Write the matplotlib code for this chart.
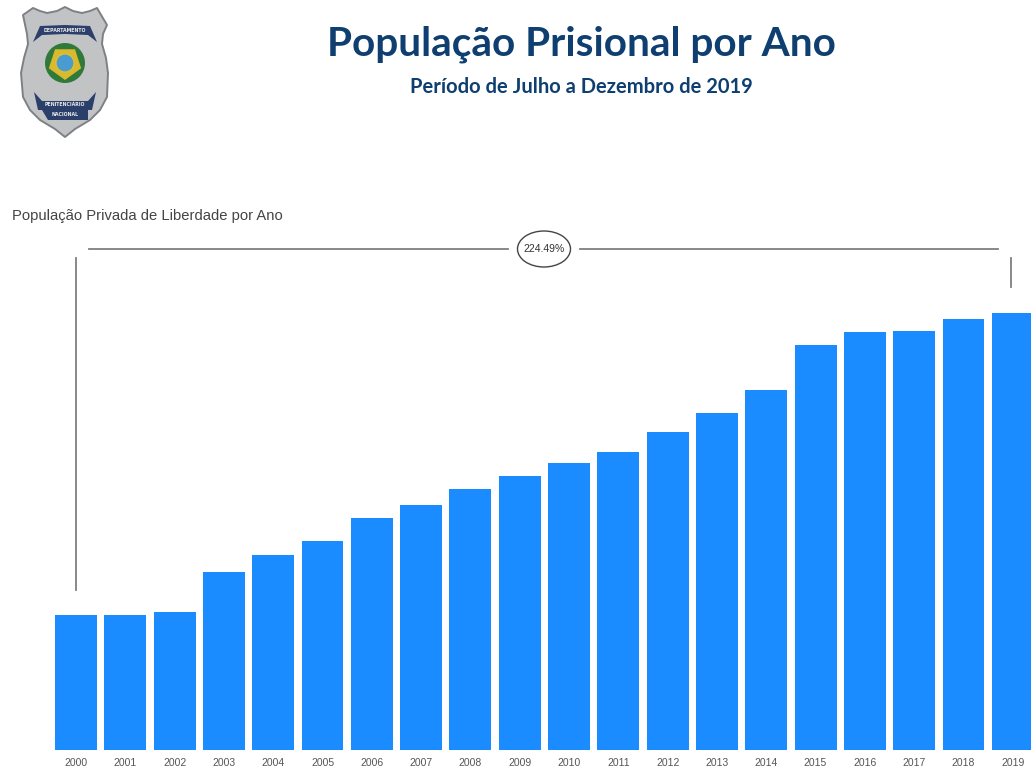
import matplotlib
matplotlib.use('Agg')
import matplotlib.pyplot as plt
from matplotlib.patches import Polygon, Circle, Ellipse, RegularPolygon

# Values, the axis itself has no labels
anos = ['2000', '2001', '2002', '2003', '2004', '2005', '2006', '2007', '2008', '2009',
        '2010', '2011', '2012', '2013', '2014', '2015', '2016', '2017', '2018', '2019']
populacao = [233000, 234000, 239000, 308000, 336000, 361000, 401000, 423000, 451000, 474000,
             496000, 515000, 550000, 582000, 622000, 699000, 722000, 723000, 744000, 755000]
variacao = '224.49%'

titulo = 'População Prisional por Ano'
subtitulo = 'Período de Julho a Dezembro de 2019'
titulo_grafico = 'População Privada de Liberdade por Ano'

AZUL_BARRA = '#1a8cff'
AZUL_TITULO = '#0e3f70'
CINZA = '#7f7f7f'
W, H = 1031, 772

fig = plt.figure(figsize=(W / 100, H / 100), dpi=100, facecolor='white')

# bars: axes spans the whole width, baseline at y=750 px
ax = fig.add_axes([0, (H - 750) / H, 1, 550 / H])
x = list(range(len(anos)))
ax.bar(x, populacao, width=0.85, color=AZUL_BARRA)
ax.set_xlim(-1.542, 19.37)
ax.set_ylim(0, 950000)
ax.set_xticks(x)
ax.set_xticklabels(anos, fontsize=7.5, color='#555555', family='Liberation Sans')
ax.tick_params(axis='x', length=0, pad=6)
ax.set_yticks([])
for s in ax.spines.values():
    s.set_visible(False)
ax.patch.set_alpha(0)

# overlay in pixel coordinates for title, bracket and logo
ov = fig.add_axes([0, 0, 1, 1])
ov.set_xlim(0, W)
ov.set_ylim(H, 0)
ov.axis('off')
ov.patch.set_alpha(0)

ov.text(581, 44, titulo, ha='center', va='center', fontsize=29.2, fontweight='bold',
        color=AZUL_TITULO, family='Lato')
ov.text(581, 87, subtitulo, ha='center', va='center', fontsize=14.5, fontweight='bold',
        color=AZUL_TITULO, family='Lato')
ov.text(12, 216, titulo_grafico, ha='left', va='center', fontsize=10.6,
        color='#444444', family='Liberation Sans')

# variation bracket
ov.plot([76, 76], [258, 590], color=CINZA, lw=1.3)
ov.plot([1011, 1011], [258, 287], color=CINZA, lw=1.3)
ov.plot([89, 508], [249, 249], color=CINZA, lw=1.3)
ov.plot([580, 998], [249, 249], color=CINZA, lw=1.3)
ov.add_patch(Ellipse((544, 249), 53, 36, fc='white', ec='#444444', lw=1))
ov.text(544, 249, variacao, ha='center', va='center', fontsize=7.5, color='#333333',
        family='Liberation Sans')

# logo badge
contorno = [(23, 15), (33, 8), (40, 11), (47, 13), (57, 11), (65, 7), (73, 11), (82, 13), (90, 11),
            (97, 8), (107, 25), (103, 34), (102, 44), (106, 58), (108, 73), (107, 97), (100, 110),
            (90, 120), (75, 129), (65, 137), (55, 129), (40, 120), (30, 110), (23, 97), (21, 73),
            (24, 58), (28, 44), (27, 34)]
ov.add_patch(Polygon(contorno, closed=True, fc='#c2c3c5', ec='#7d8085', lw=1.4, joinstyle='round'))
ov.add_patch(Polygon([(40, 26), (65, 25), (90, 26), (97, 42), (88, 35), (65, 34), (42, 35), (33, 42)],
                     closed=True, fc='#2b3f6b', ec='none'))
ov.text(65, 30, 'DEPARTAMENTO', ha='center', va='center', fontsize=3.4, fontweight='bold',
        color='#e8e8e8')
ov.add_patch(Circle((65, 63), 20, fc='#2f7a3a', ec='none'))
ov.add_patch(RegularPolygon((65, 63), 5, radius=17, fc='#d9b92d', ec='none'))
ov.add_patch(Circle((65, 63), 9, fc='#4a9bd0', ec='#e3c22f', lw=0.8))
ov.add_patch(Polygon([(34, 92), (42, 101), (88, 101), (96, 92), (92, 110), (88, 110), (88, 120),
                      (48, 120), (42, 110), (38, 110)], closed=True, fc='#2b3f6b', ec='none'))
ov.text(65, 105, 'PENITENCIÁRIO', ha='center', va='center', fontsize=3.4, fontweight='bold',
        color='#e8e8e8')
ov.text(65, 115, 'NACIONAL', ha='center', va='center', fontsize=3.4, fontweight='bold',
        color='#e8e8e8')

fig.savefig('out.png', dpi=100)
